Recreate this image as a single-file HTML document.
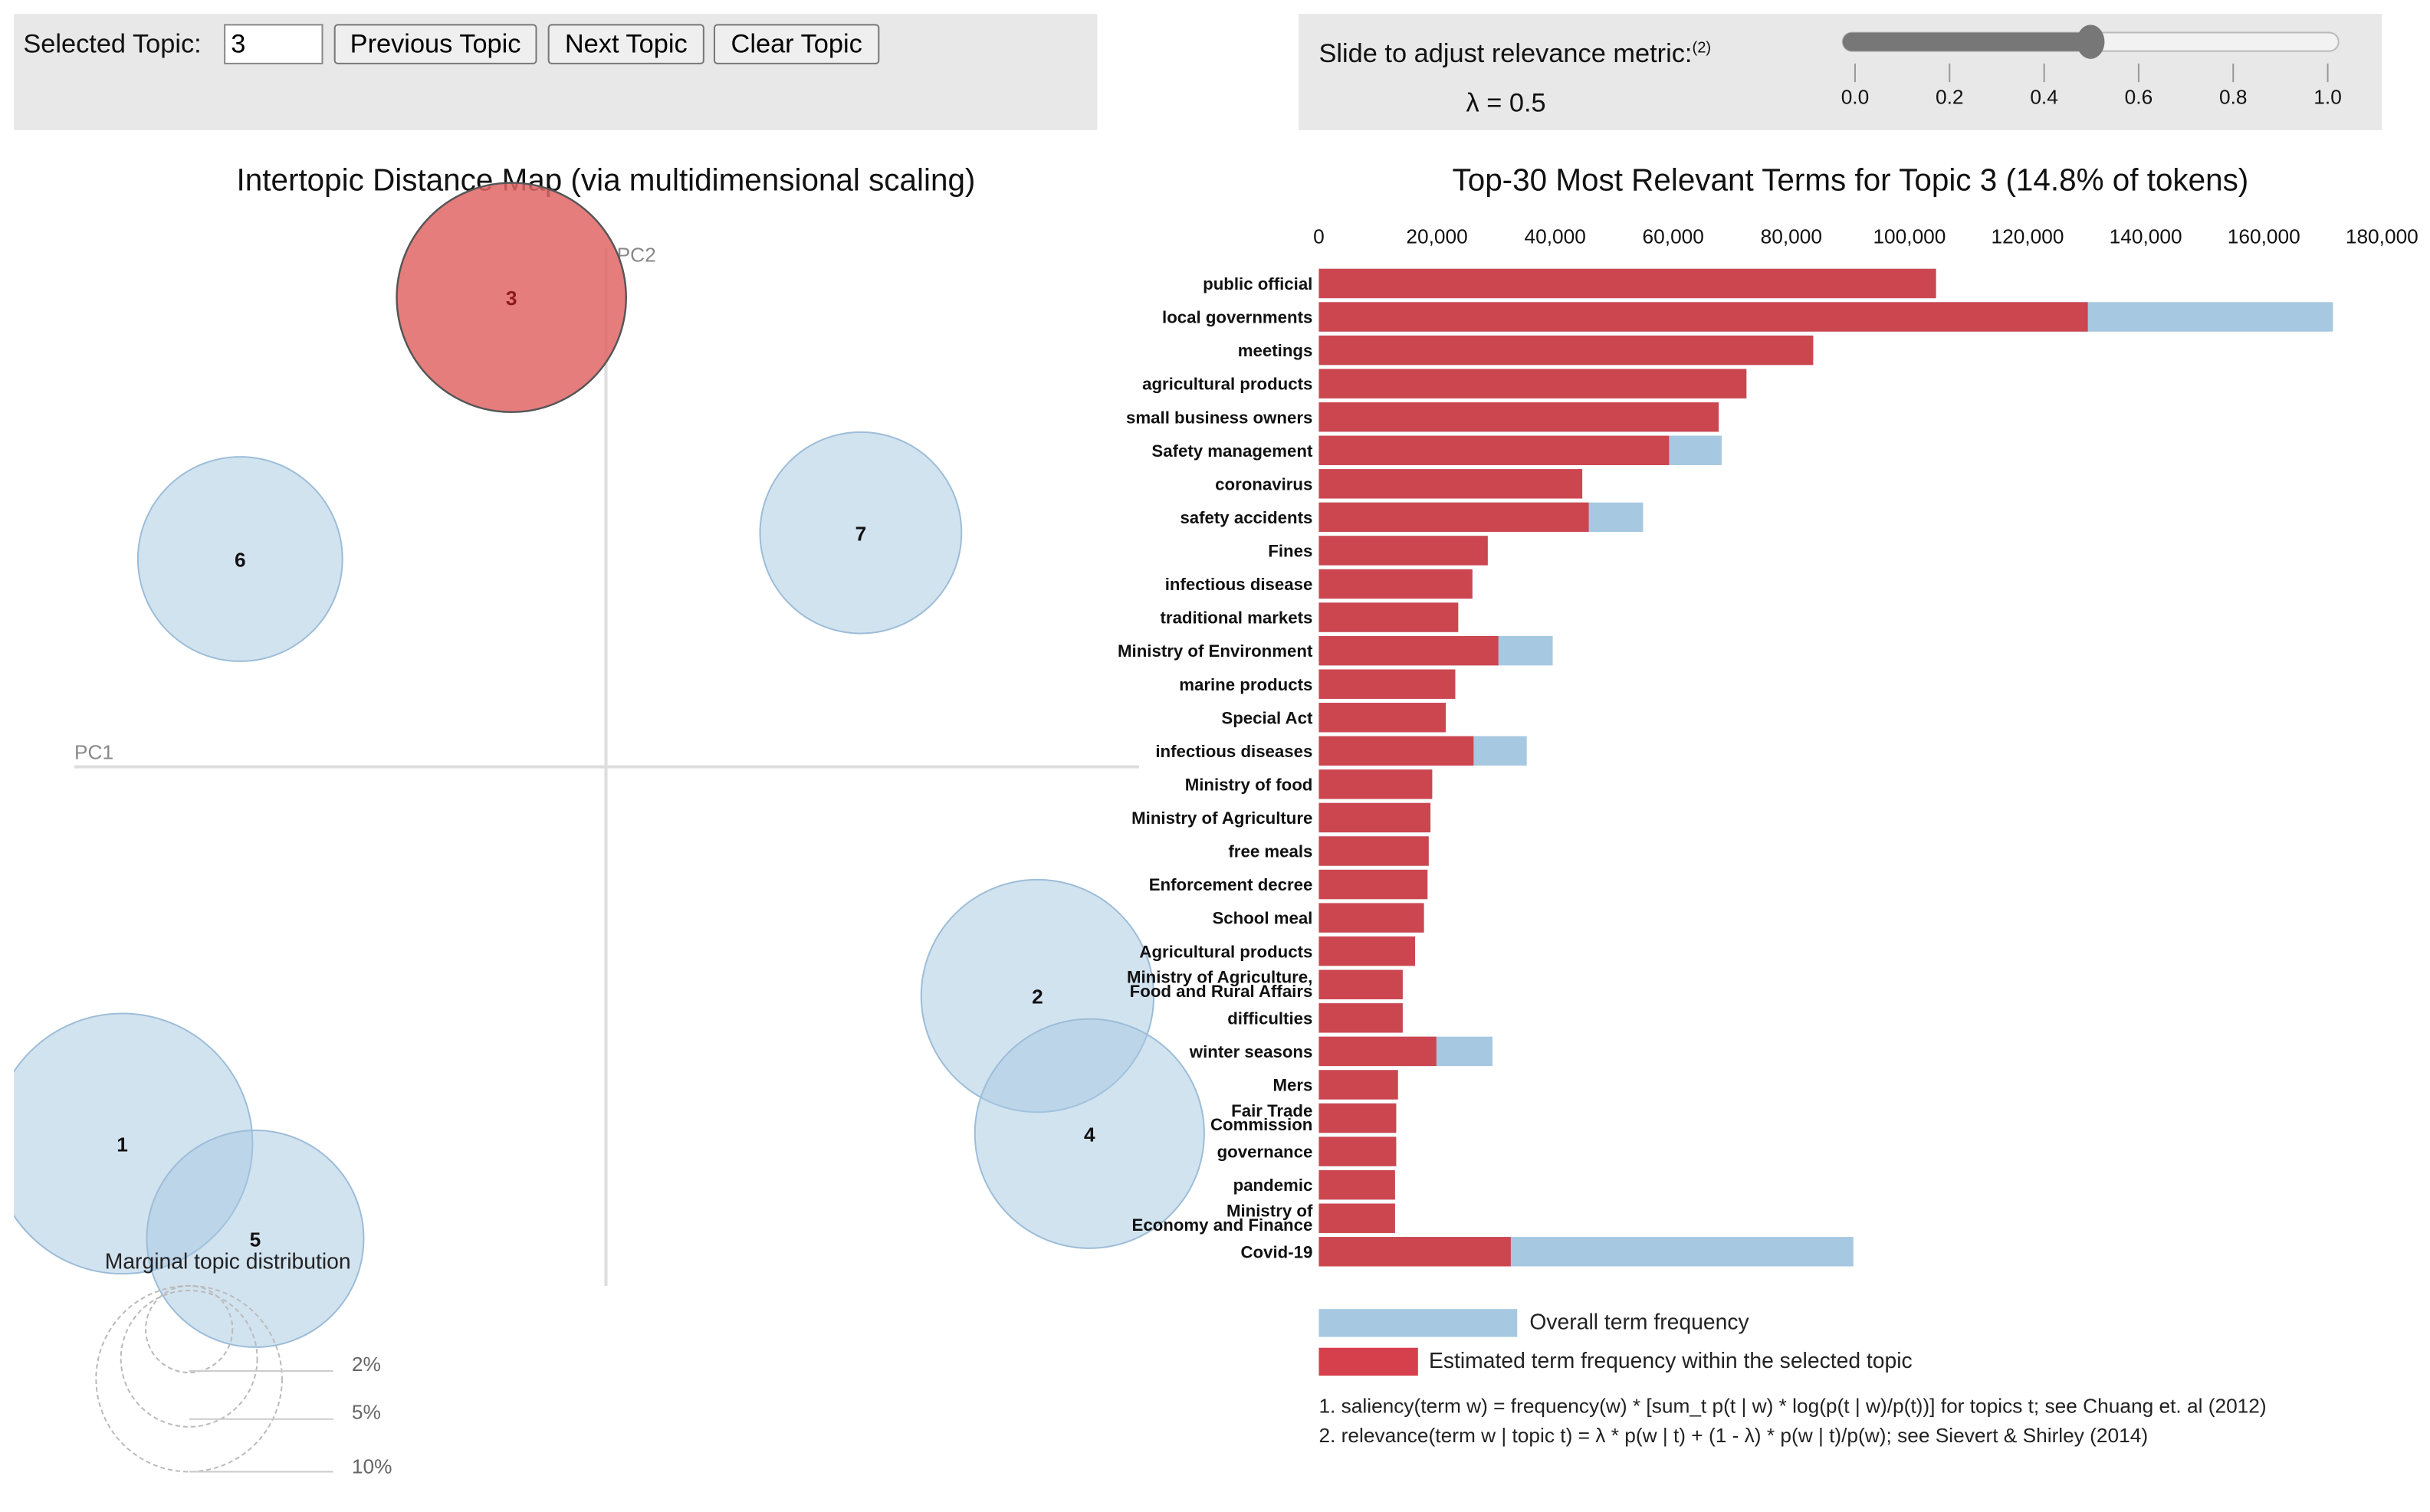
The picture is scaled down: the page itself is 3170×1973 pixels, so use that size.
<!DOCTYPE html>
<html><head><meta charset="utf-8">
<style>
html,body{margin:0;padding:0;background:#fff;width:3170px;height:1973px;overflow:hidden}
svg{display:block;font-family:"Liberation Sans",sans-serif}
</style></head>
<body>
<svg id="root" width="3170" height="1973" viewBox="0 0 1568 976" preserveAspectRatio="none" xmlns="http://www.w3.org/2000/svg">
<rect x="9" y="9" width="699" height="75" fill="#e8e8e8"/>
<text x="15" y="34" font-size="17" fill="#111">Selected Topic:</text>
<g><rect x="145" y="16" width="63" height="25" fill="#fff" stroke="#888"/><text x="149" y="34" font-size="17">3</text></g>
<g><rect x="216" y="16" width="130" height="25" fill="#efefef" stroke="#777" rx="2"/><text x="281" y="34" font-size="17" text-anchor="middle">Previous Topic</text></g>
<g><rect x="354" y="16" width="100" height="25" fill="#efefef" stroke="#777" rx="2"/><text x="404" y="34" font-size="17" text-anchor="middle">Next Topic</text></g>
<g><rect x="461" y="16" width="106" height="25" fill="#efefef" stroke="#777" rx="2"/><text x="514" y="34" font-size="17" text-anchor="middle">Clear Topic</text></g>
<rect x="838" y="9" width="699" height="75" fill="#e8e8e8"/>
<text x="851" y="40" font-size="17" fill="#111">Slide to adjust relevance metric:<tspan font-size="10" dy="-6">(2)</tspan></text>
<text x="946" y="72" font-size="17" fill="#111">λ = 0.5</text>
<g>
<rect x="1189" y="21" width="320" height="12" rx="6" fill="#f2f2f2" stroke="#bbb"/>
<rect x="1189" y="21" width="160" height="12" rx="6" fill="#777"/>
<ellipse cx="1349" cy="27" rx="9" ry="11" fill="#777"/>
</g>
<g id="sliderticks"></g>
<text x="391" y="123" font-size="20" text-anchor="middle" fill="#111">Intertopic Distance Map (via multidimensional scaling)</text>
<text x="1194" y="123" font-size="20" text-anchor="middle" fill="#111">Top-30 Most Relevant Terms for Topic 3 (14.8% of tokens)</text>
<defs><clipPath id="mapclip"><rect x="9" y="90" width="800" height="880"/></clipPath></defs>
<line x1="48" y1="495" x2="735" y2="495" stroke="#ddd" stroke-width="2"/>
<line x1="391" y1="160" x2="391" y2="830" stroke="#ddd" stroke-width="2"/>
<text x="48" y="490" font-size="13" fill="#888">PC1</text>
<text x="398" y="169" font-size="13" fill="#888">PC2</text>
<g id="circles" clip-path="url(#mapclip)"></g>
<text x="147" y="819" font-size="14" text-anchor="middle" fill="#222">Marginal topic distribution</text>
<g fill="none" stroke="#bbb" stroke-dasharray="3,2">
<circle cx="122" cy="890" r="60"/><circle cx="122" cy="877" r="44"/><circle cx="122" cy="858" r="28"/>
</g>
<g stroke="#ccc">
<line x1="122" y1="885" x2="215" y2="885"/><line x1="122" y1="916" x2="215" y2="916"/><line x1="122" y1="950" x2="215" y2="950"/>
</g>
<text x="227" y="885" font-size="13" fill="#666">2%</text>
<text x="227" y="916" font-size="13" fill="#666">5%</text>
<text x="227" y="951" font-size="13" fill="#666">10%</text>
<g id="xaxis"></g>
<g id="bars"></g>
<rect x="851" y="845" width="128" height="18" fill="#a6c8e1"/>
<text x="987" y="858" font-size="14" fill="#222">Overall term frequency</text>
<rect x="851" y="870" width="64" height="18" fill="#d6404d"/>
<text x="922" y="883" font-size="14" fill="#222">Estimated term frequency within the selected topic</text>
<text x="851" y="912" font-size="13" fill="#222">1. saliency(term w) = frequency(w) * [sum_t p(t | w) * log(p(t | w)/p(t))] for topics t; see Chuang et. al (2012)</text>
<text x="851" y="931" font-size="13" fill="#222">2. relevance(term w | topic t) = λ * p(w | t) + (1 - λ) * p(w | t)/p(w); see Sievert &amp; Shirley (2014)</text>
</svg>
<script>
const terms=["public official","local governments","meetings","agricultural products","small business owners","Safety management","coronavirus","safety accidents","Fines","infectious disease","traditional markets","Ministry of Environment","marine products","Special Act","infectious diseases","Ministry of food","Ministry of Agriculture","free meals","Enforcement decree","School meal","Agricultural products","Ministry of Agriculture,|Food and Rural Affairs","difficulties","winter seasons","Mers","Fair Trade|Commission","governance","pandemic","Ministry of|Economy and Finance","Covid-19"];
const topicFreq=[104500,130200,83700,72400,67700,59300,44600,45700,28600,26000,23600,30400,23100,21500,26200,19200,18900,18600,18400,17800,16300,14200,14200,19900,13400,13100,13100,12900,12900,32500];
const overallFreq=[104500,171700,83700,72400,67700,68200,44600,54900,28600,26000,23600,39600,23100,21500,35200,19200,18900,18600,18400,17800,16300,14200,14200,29400,13400,13100,13100,12900,12900,90500];
const xTicks=[0,20000,40000,60000,80000,100000,120000,140000,160000,180000];
const sliderTicks=[0.0,0.2,0.4,0.6,0.8,1.0];
const topicIds=["1","2","3","4","5","6","7"];
const topicX=[-3.53,3.15,-0.69,3.53,-2.56,-2.67,1.86];
const topicY=[-3.01,-1.83,3.75,-2.93,-3.77,1.66,1.87];
const topicSize=[8.69,6.93,6.74,6.74,6.03,5.36,5.2];
const NS="http://www.w3.org/2000/svg";
function mk(t,a,p){const e=document.createElementNS(NS,t);for(const k in a)e.setAttribute(k,a[k]);p.appendChild(e);return e;}
const x=v=>851+v*(686/180000);
const rowY=i=>183+i*21.55;
const mx=v=>391+v*88.4, my=v=>495-v*80.8, mr=s=>Math.sqrt(s)*28.5;
const st=document.getElementById('sliderticks');
sliderTicks.forEach(v=>{const sx=1197+v*305;
 const l=mk('line',{x1:sx,y1:41,x2:sx,y2:53,stroke:'#999'},st);
 
 const t=mk('text',{x:sx,y:67,'font-size':13,'text-anchor':'middle',fill:'#111'},st);t.textContent=v.toFixed(1);
 });
const cg=document.getElementById('circles');
topicIds.forEach((id,i)=>{const sel=id==="3";
 const c=mk('circle',{cx:mx(topicX[i]),cy:my(topicY[i]),r:mr(topicSize[i]),fill:sel?'#e06666':'#a6c8e1','fill-opacity':sel?0.85:0.5,stroke:sel?'#555':'#9dbdd8','stroke-width':sel?1.2:1},cg);
 });
topicIds.forEach((id,i)=>{const t=mk('text',{x:mx(topicX[i]),y:my(topicY[i])+5,'font-size':13,'font-weight':'bold','text-anchor':'middle',fill:id==="3"?'#8b1a1a':'#111'},cg);t.textContent=id;
 });
const xa=document.getElementById('xaxis');
xTicks.forEach(v=>{const t=mk('text',{x:x(v),y:157,'font-size':13,'text-anchor':'middle',fill:'#111'},xa);t.textContent=v.toLocaleString('en-US');
 });
const bg=document.getElementById('bars');
terms.forEach((term,i)=>{const y=rowY(i);
 const b1=mk('rect',{x:x(0),y:y-9.5,width:x(overallFreq[i])-x(0),height:19,fill:'#a6c8e1'},bg);
 
 const b2=mk('rect',{x:x(0),y:y-9.5,width:x(topicFreq[i])-x(0),height:19,fill:'#cc4650'},bg);
 
 const parts=term.split('|');
 const t=mk('text',{x:847,'font-size':11,'font-weight':'bold','text-anchor':'end',fill:'#111'},bg);
 
 if(parts.length===1){t.setAttribute('y',y+4);t.textContent=term;}
 else{parts.forEach((p,k)=>{const s=mk('tspan',{x:847,y:y-1+k*9},t);s.textContent=p;});}
});
</script>
</body></html>
